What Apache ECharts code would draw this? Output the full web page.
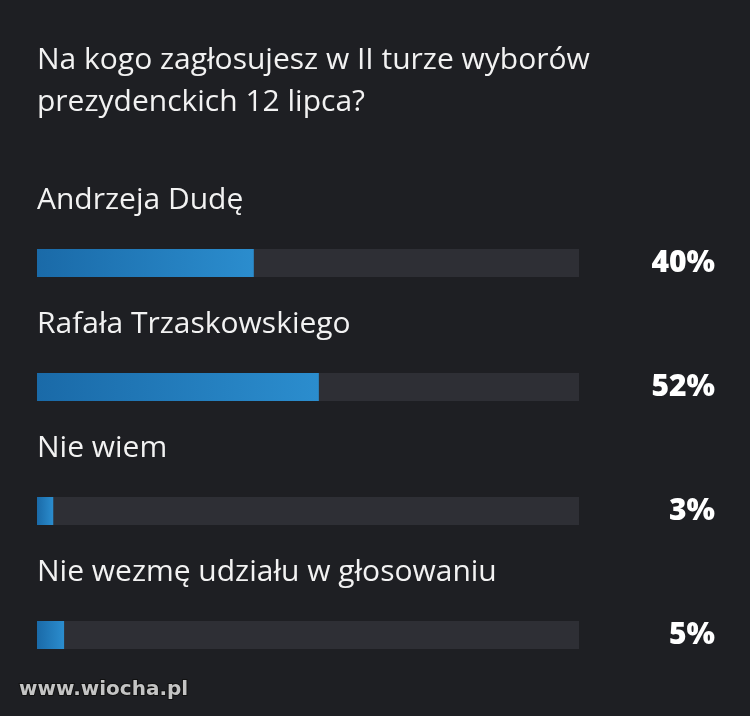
<!DOCTYPE html>
<html>
<head>
<meta charset="utf-8">
<script src="https://cdn.jsdelivr.net/npm/echarts@6/dist/echarts.min.js"></script>
<style>
html,body{margin:0;padding:0;background:#1e1f23;}
#c{width:750px;height:716px;}
</style>
</head>
<body>
<div id="c"></div>
<script>
const titleText = 'Na kogo zagłosujesz w II turze wyborów\nprezydenckich 12 lipca?';
const categories = ['Andrzeja Dudę', 'Rafała Trzaskowskiego', 'Nie wiem', 'Nie wezmę udziału w głosowaniu'];
const values = [40, 52, 3, 5];
const watermark = 'www.wiocha.pl';

const chart = echarts.init(document.getElementById('c'), null, {renderer: 'canvas'});
const font = '"Open Sans", "Noto Sans", sans-serif';
chart.setOption({
  backgroundColor: '#1e1f23',
  animation: false,
  title: {
    text: titleText,
    left: 37,
    top: 39,
    padding: 0,
    textStyle: {color: '#f2f2f2', fontSize: 30, fontWeight: 'normal', fontFamily: font, lineHeight: 42}
  },
  grid: {left: 37, width: 542, top: 201, height: 496},
  xAxis: {type: 'value', min: 0, max: 100, show: false},
  yAxis: [{
    type: 'category', data: categories, inverse: true,
    axisLine: {show: false}, axisTick: {show: false}, axisLabel: {show: false}
  }, {
    type: 'category', data: values, inverse: true, position: 'right',
    axisLine: {show: false}, axisTick: {show: false},
    axisLabel: {
      margin: 136, interval: 0, align: 'right', color: '#ffffff', fontSize: 30, fontWeight: 800, fontFamily: font,
      formatter: v => v + '%'
    }
  }],
  series: [{
    type: 'bar', data: values, barWidth: 28,
    showBackground: true,
    backgroundStyle: {color: '#2e2f35'},
    itemStyle: {
      color: new echarts.graphic.LinearGradient(0, 0, 1, 0, [
        {offset: 0, color: '#1a6aa8'}, {offset: 1, color: '#2b8dce'}
      ])
    },
    label: {
      show: true, position: [0, -49], align: 'left', verticalAlign: 'middle',
      color: '#f2f2f2', fontSize: 30, fontFamily: font,
      formatter: p => categories[p.dataIndex]
    },
    labelLayout: {hideOverlap: false}
  }],
  graphic: [{
    type: 'text', left: 18, top: 679,
    style: {
      text: watermark, fill: '#c4c4c4', font: 'bold 20px "DejaVu Sans", sans-serif',
      stroke: '#111', lineWidth: 2, shadowColor: '#000', shadowBlur: 2
    }
  }]
});
</script>
</body>
</html>
